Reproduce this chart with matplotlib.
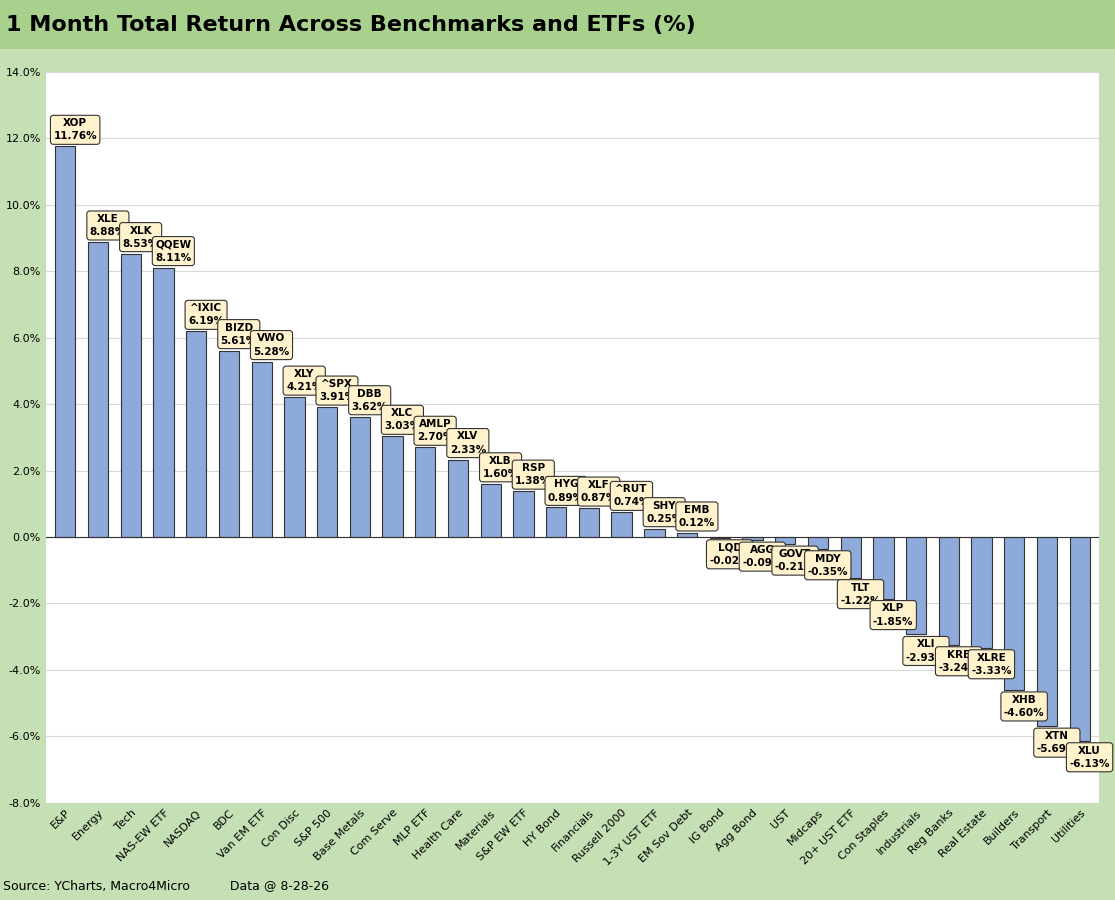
import matplotlib.pyplot as plt
import numpy as np

categories = ["E&P", "Energy", "Tech", "NAS-EW ETF", "NASDAQ", "BDC", "Van EM ETF", "Con Disc",
              "S&P 500", "Base Metals", "Com Serve", "MLP ETF", "Health Care", "Materials",
              "S&P EW ETF", "HY Bond", "Financials", "Russell 2000", "1-3Y UST ETF", "EM Sov Debt",
              "IG Bond", "Agg Bond", "UST", "Midcaps", "20+ UST ETF", "Con Staples", "Industrials",
              "Reg Banks", "Real Estate", "Builders", "Transport", "Utilities"]
tickers = ["XOP", "XLE", "XLK", "QQEW", "^IXIC", "BIZD", "VWO", "XLY", "^SPX", "DBB", "XLC", "AMLP",
           "XLV", "XLB", "RSP", "HYG", "XLF", "^RUT", "SHY", "EMB", "LQD", "AGG", "GOVT", "MDY",
           "TLT", "XLP", "XLI", "KRE", "XLRE", "XHB", "XTN", "XLU"]
returns = [11.76, 8.88, 8.53, 8.11, 6.19, 5.61, 5.28, 4.21, 3.91, 3.62, 3.03, 2.70, 2.33, 1.60,
           1.38, 0.89, 0.87, 0.74, 0.25, 0.12, -0.02, -0.09, -0.21, -0.35, -1.22, -1.85, -2.93,
           -3.24, -3.33, -4.60, -5.69, -6.13]

fig = plt.figure(figsize=(11.15, 9), dpi=100)
fig.patch.set_facecolor("#c5e0b4")
fig.patches.append(plt.Rectangle((0, 0.946), 1, 0.054, transform=fig.transFigure,
                                 facecolor="#a9d18e", edgecolor="none"))
fig.text(0.005, 0.972, "1 Month Total Return Across Benchmarks and ETFs (%)", fontsize=16,
         fontweight="bold", va="center", ha="left")
fig.text(0.003, 0.016, "Source: YCharts, Macro4Micro          Data @ 8-28-26", fontsize=9,
         va="center", ha="left")

ax = fig.add_axes([0.041, 0.108, 0.945, 0.812])
x = np.arange(len(categories))
ax.bar(x, returns, width=0.62, color="#8eaadb", edgecolor="#333333", linewidth=0.8)
ax.set_xlim(-0.6, len(categories) - 0.4)
ax.set_ylim(-8, 14)
ax.set_yticks(np.arange(-8, 15, 2))
ax.set_yticklabels([f"{v:.1f}%" for v in np.arange(-8, 15, 2)], fontsize=8)
ax.yaxis.grid(True, color="#d9d9d9", linewidth=0.8)
ax.set_axisbelow(True)
ax.axhline(0, color="#333333", linewidth=0.8)
ax.set_xticks(x)
ax.set_xticklabels(categories, rotation=45, ha="right", rotation_mode="anchor", fontsize=8)
ax.tick_params(length=0)
for s in ax.spines.values():
    s.set_visible(False)

for xi, t, v in zip(x, tickers, returns):
    off = 0.15 if v >= 0 else -0.15
    ax.annotate(f"{t}\n{v:.2f}%", (xi + 0.3, v + off), ha="center",
                va="bottom" if v >= 0 else "top", fontsize=7.5, fontweight="bold",
                linespacing=1.4,
                bbox=dict(boxstyle="round,pad=0.28", facecolor="#fff2cc", edgecolor="#333333",
                          linewidth=0.8))

fig.savefig("out.png", facecolor=fig.get_facecolor())
